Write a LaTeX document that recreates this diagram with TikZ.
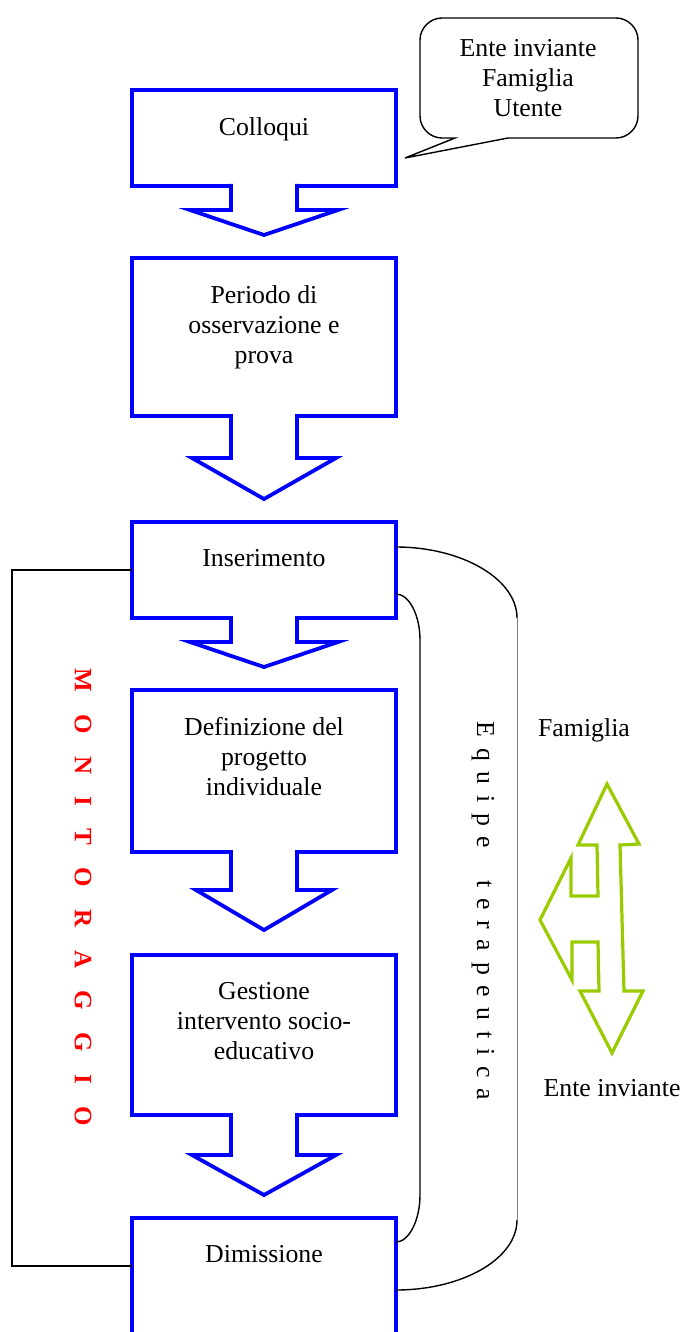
\documentclass[tikz,border=0pt]{standalone}
\usepackage{fontspec}
\setmainfont{Liberation Serif}
\usetikzlibrary{positioning,calc}
\definecolor{arrowgreen}{RGB}{153,204,0}
\newcommand{\monfont}{\fontsize{12.5}{15}\selectfont\bfseries\spaceskip 11.2pt\relax}
\newcommand{\eqfont}{\fontsize{12.9}{15}\selectfont\spaceskip 5.3pt\relax}

\begin{document}
\begin{tikzpicture}[x=0.5pt,y=-0.5pt,
    stepbox/.style={draw=blue,line width=1.9pt,minimum width=132pt,inner sep=0pt,outer sep=0pt,anchor=north},
    stepline/.style={draw=blue,line width=1.9pt,fill=white},
    steptext/.style={font=\fontsize{12.9}{15}\selectfont,align=center,inner sep=0pt},
    bracket/.style={line width=0.7pt},
    node distance=36pt]
        \useasboundingbox (0,0) rectangle (683,1332);

        % blue steps
        \node[stepbox,minimum height=48pt] (coll) at (264,90) {};
        \node[stepbox,minimum height=79pt] (per) [below=36pt of coll] {};
        \node[stepbox,minimum height=48pt] (ins) [below=53pt of per] {};
        \node[stepbox,minimum height=81pt] (def) [below=36pt of ins] {};
        \node[stepbox,minimum height=80pt] (ges) [below=51.5pt of def] {};
        \node[stepbox,minimum height=65pt] (dim) [below=51.5pt of ges] {};

        \foreach \b/\s/\h/\l in {coll/24/74/25, per/42/72/41, ins/24/74/25, def/38/68/40, ges/40/72/40}
            \filldraw[stepline] ($(\b.south)+(-33,-2)$) -- ++(0,\s+2) -- ++(33-\h,0) -- ++(\h,\l)
                -- ++(\h,-\l) -- ++(33-\h,0) -- ++(0,-\s-2);

        \node[steptext] (collT) [below=13.5pt of coll.north] {Colloqui};
        \node[steptext] (perT) [below=13.5pt of per.north] {Periodo di\\osservazione e\\prova};
        \node[steptext] (insT) [below=13.5pt of ins.north] {Inserimento};
        \node[steptext] (defT) [below=13.5pt of def.north] {Definizione del\\progetto\\individuale};
        \node[steptext] (gesT) [below=13.5pt of ges.north] {Gestione\\intervento socio-\\educativo};
        \node[steptext] (dimT) [below=13.5pt of dim.north] {Dimissione};

        % callout
        \draw[bracket] (455,138) -- (405,158) -- (508,138) -- (616,138) .. controls (628,138) and (638,128) .. (638,116)
            -- (638,40) .. controls (638,28) and (628,18) .. (616,18) -- (442,18) .. controls (430,18) and (420,28) .. (420,40)
            -- (420,116) .. controls (420,128) and (430,138) .. (442,138) -- cycle;
        \node[steptext] (src) at (528,78) {Ente inviante\\Famiglia\\Utente};

        % monitoraggio
        \draw[bracket] (ins.west) -- ++(-120,0) |- ($(dim.north west)+(0,48)$);
        \node[rotate=-90,text=red,font=\monfont,inner sep=0pt] (mon) at (83,897) {M O N I T O R A G G I O};

        % equipe
        \coordinate (eqtop) at (517,618);
        \coordinate (eqbot) at (517,1220);
        \draw[bracket] ($(ins.north east)+(0,25)$) .. controls +(66,0) and +(0,-39) .. (eqtop);
        \draw[gray,line width=0.4pt] (eqtop) -- (eqbot);
        \draw[bracket] (eqbot) .. controls +(0,39) and +(66,0) .. ($(dim.north east)+(0,72)$);
        \draw[bracket] ($(ins.north east)+(0,72)$) .. controls +(13,0) and +(0,-25) .. (420,640) -- (420,1195)
            .. controls +(0,25) and +(13,0) .. ($(dim.north east)+(0,24)$);
        \node[rotate=-90,font=\eqfont,inner sep=0pt] (equipe) at (483,911) {E q u i p e\hspace{16.5pt}t e r a p e u t i c a};

        % famiglia / ente inviante
        \node[steptext] (fam) at (584,730) {Famiglia};
        \node[steptext] (ente) at (612,1088) {Ente inviante};
        \draw[arrowgreen,line width=1.6pt] (607,784) -- (639,844) -- (620,845) -- (624,991) -- (643,991) -- (612,1053)
            -- (580,991) -- (599,991) -- (598,942) -- (572,942) -- (572,980) -- (540,920) -- (571,858) -- (571,896)
            -- (598,896) -- (597,845) -- (578,845) -- cycle;
\end{tikzpicture}
\end{document}
